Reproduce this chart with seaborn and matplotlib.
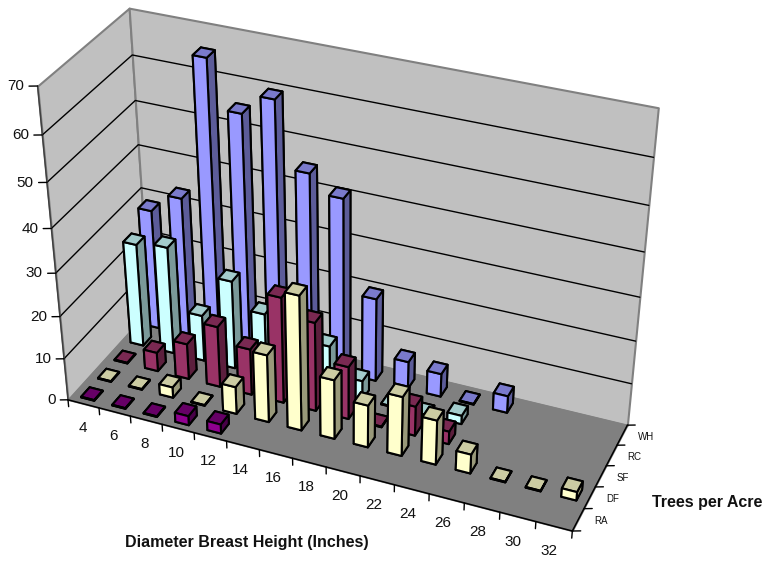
import numpy as np
import pandas as pd
import seaborn as sns
import matplotlib
matplotlib.use("Agg")
import matplotlib.pyplot as plt
from matplotlib.colors import to_rgb
from mpl_toolkits.mplot3d import Axes3D
from mpl_toolkits.mplot3d.art3d import Poly3DCollection

# Trees per acre by diameter class and species (0 = no trees in the class)
diameters = [4, 6, 8, 10, 12, 14, 16, 18, 20, 22, 24, 26, 28, 30, 32]
species = ["RA", "DF", "SF", "RC", "WH"]
ra = [0.15, 0.15, 0.15, 2.2, 2.2, 0, 0, 0, 0, 0, 0, 0, 0, 0, 0]
df = [0.15, 0.15, 2.5, 0.15, 6.5, 16, 31.5, 14, 10, 14, 10.5, 4.5, 0.15, 0.15, 2]
sf = [0.15, 4.5, 8.5, 14.5, 11, 25, 21, 12.5, 0.15, 7, 3, 0, 0, 0, 0]
rc = [24.5, 25.5, 11, 21, 15, 0, 11, 4.5, 0.15, 0.15, 2, 0, 0, 0, 0]
wh = [28.5, 33, 65.5, 55, 59.5, 45, 41, 19.7, 6.5, 5.5, 0.15, 4, 0, 0, 0]
z_ticks = [0, 10, 20, 30, 40, 50, 60, 70]

table = pd.DataFrame({"RA": ra, "DF": df, "SF": sf, "RC": rc, "WH": wh}, index=diameters)

sns.set_theme(style="white")
plt.rcParams["font.family"] = ["Liberation Sans", "DejaVu Sans"]

# Front, top and side face colours for each species
front = dict(zip(species, sns.color_palette(["#8F008F", "#FFFFCC", "#993366", "#CCFFFF", "#9999FF"])))
top_tint = {"RA": 0.71, "DF": 0.8, "SF": 0.8, "RC": 0.8, "WH": 0.8}
side_tint = {"RA": 0.5, "DF": 0.6, "SF": 0.6, "RC": 0.6, "WH": 0.6}

WIDTH, HEIGHT = 772, 561
X0, X1 = -0.5, len(diameters) - 0.5
Y0, Y1 = -0.5, len(species) - 0.5
ZMAX = z_ticks[-1]


def fit_camera():
    """Solve a pinhole camera from where the chart box corners land, in normalised view units."""
    corners = [
        ((X0, Y0, 0), (67, 398)),
        ((X0, Y0, ZMAX), (38, 87)),
        ((X0, Y1, ZMAX), (129, 7)),
        ((X0, Y1, 0), (150, 312)),
        ((X1, Y1, ZMAX), (658, 108)),
        ((X1, Y1, 0), (627, 424)),
        ((X1, Y0, 0), (573, 532)),
    ]
    scale = np.diag([1 / (X1 - X0), 1 / (Y1 - Y0), 1 / ZMAX, 1.0])
    rows = []
    for (x, y, z), (px, py) in corners:
        u, v = 2 * px / WIDTH - 1, 1 - 2 * py / HEIGHT
        w = scale @ np.array([x, y, z, 1.0])
        rows.append(np.r_[w, np.zeros(4), -u * w])
        rows.append(np.r_[np.zeros(4), w, -v * w])
    P = np.linalg.svd(np.array(rows))[2][-1].reshape(3, 4) @ scale
    if P[2] @ np.array([X0, Y0, 0, 1.0]) < 0:
        P = -P
    return P


CAMERA = fit_camera()


def to_figure(x, y, z):
    """Figure-fraction position of a point in chart coordinates."""
    u, v, w = CAMERA @ np.array([x, y, z, 1.0])
    return (u / w + 1) / 2, (v / w + 1) / 2


class PinnedCameraAxes(Axes3D):
    """3D axes whose projection is a fixed camera filling the whole figure."""

    def get_proj(self):
        return np.array([CAMERA[0], CAMERA[1], [0, 0, 0, -1.0], CAMERA[2]])

    def apply_aspect(self, position=None):
        pass


fig = plt.figure(figsize=(WIDTH / 100, HEIGHT / 100), dpi=100, facecolor="white")
ax = PinnedCameraAxes(fig, [0, 0, 1, 1])
fig.add_axes(ax)
ax.computed_zorder = False
ax.set_axis_off()
ax.viewLim.intervalx = (-1, 1)
ax.viewLim.intervaly = (-1, 1)

# Walls and floor
wall_kw = dict(edgecolor="#808080", linewidth=1.5)
ax.add_collection3d(Poly3DCollection(
    [[(X0, Y0, 0), (X0, Y1, 0), (X0, Y1, ZMAX), (X0, Y0, ZMAX)]],
    facecolor="#C0C0C0", zorder=1, **wall_kw))
ax.add_collection3d(Poly3DCollection(
    [[(X0, Y1, 0), (X1, Y1, 0), (X1, Y1, ZMAX), (X0, Y1, ZMAX)]],
    facecolor="#C0C0C0", zorder=1, **wall_kw))
ax.add_collection3d(Poly3DCollection(
    [[(X0, Y0, 0), (X1, Y0, 0), (X1, Y1, 0), (X0, Y1, 0)]],
    facecolor="#808080", edgecolor="#808080", zorder=2))

# Gridlines along both walls
for z in z_ticks[1:-1]:
    ax.plot([X0, X0, X1], [Y0, Y1, Y1], [z, z, z], color="black", lw=1.0, zorder=3)

# Outer axis lines
ax.plot([X0, X1, X1], [Y0, Y0, Y1], [0, 0, 0], color="black", lw=1.1, zorder=4)
ax.plot([X0, X0], [Y0, Y0], [0, ZMAX], color="#404040", lw=1.1, zorder=4)

# Tick marks and labels
nudge_x, nudge_y = 0.2, 0.09
for z in z_ticks:
    ax.plot([X0, X0 - nudge_x], [Y0, Y0 - nudge_y], [z, z], color="black", lw=1.0, zorder=4)
    fx, fy = to_figure(X0 - 1.6 * nudge_x, Y0 - 1.6 * nudge_y, z)
    fig.text(fx, fy, str(z), ha="right", va="center", fontsize=11, color="#111111")
for edge in np.arange(X0, X1 + 0.5):
    ax.plot([edge, edge], [Y0, Y0], [0, -1.7], color="black", lw=1.0, zorder=4)
for i, label in enumerate(diameters):
    fx, fy = to_figure(i - 0.1, Y0, -6.2)
    fig.text(fx, fy, str(label), ha="center", va="center", fontsize=11, color="#111111")
for edge in np.arange(Y0, Y1 + 0.5):
    ax.plot([X1, X1 + nudge_x], [edge, edge + nudge_y], [0, 0], color="black", lw=1.0, zorder=4)
for j, label in enumerate(species):
    fx, fy = to_figure(X1 + 2 * nudge_x, j + 2 * nudge_y, -0.4)
    fig.text(fx, fy, label, ha="left", va="center", fontsize=7, color="#111111")

# Bars, back row first and left to right so nearer bars overlap farther ones
BAR_DX, BAR_DY = 0.42, 0.5
order = 10
for name in reversed(species):
    base = np.array(to_rgb(front[name]))
    top = base * top_tint[name]
    side = base * side_tint[name]
    # Face order used by bar3d: -z, +z, -y, +y, -x, +x
    faces = [side, top, base, side, side, side]
    for i, value in enumerate(table[name]):
        if value <= 0:
            continue
        ax.bar3d(i - BAR_DX / 2, species.index(name) - BAR_DY / 2, 0,
                 BAR_DX, BAR_DY, value, color=faces, shade=False,
                 edgecolor="black", linewidth=1.5, zorder=order)
        order += 1

fig.text(247 / WIDTH, 1 - 542 / HEIGHT, "Diameter Breast Height (Inches)", ha="center", va="center",
         fontsize=11.5, fontweight="bold", color="#111111")
fig.text(707 / WIDTH, 1 - 502 / HEIGHT, "Trees per Acre", ha="center", va="center",
         fontsize=11.5, fontweight="bold", color="#111111")

fig.savefig("out.png", dpi=100)
